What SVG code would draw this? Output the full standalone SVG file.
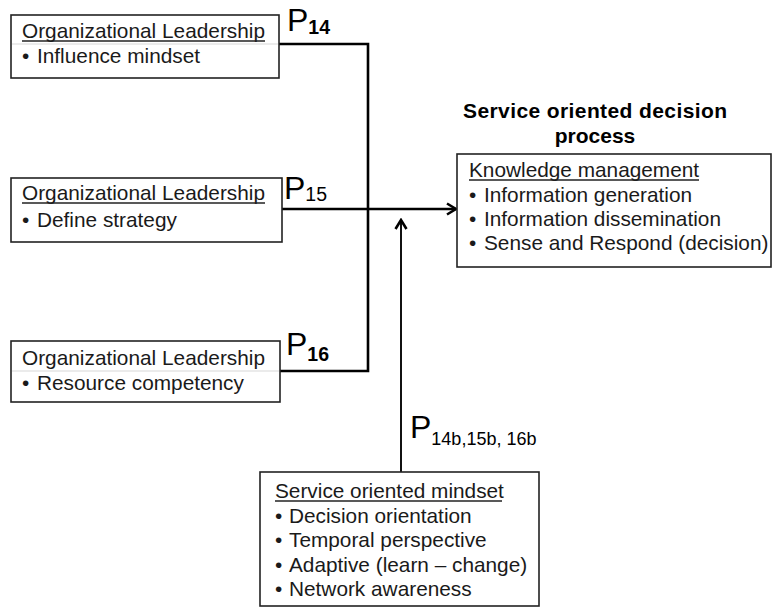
<svg xmlns="http://www.w3.org/2000/svg" width="772" height="608" viewBox="0 0 772 608">
  <style>
    .box { fill: #ffffff; stroke: #222222; stroke-width: 1.6; }
    .sep { stroke: #d8d8d8; stroke-width: 1.2; }
    .txt { font-family: "Liberation Sans", Arial, sans-serif; font-size: 20.8px; fill: #1a1a1a; }
    .ul { stroke: #222222; stroke-width: 1.3; }
    .title { font-family: "Liberation Sans", Arial, sans-serif; font-size: 21px; font-weight: bold; fill: #000000; }
    .p { font-family: "Liberation Sans", Arial, sans-serif; font-size: 32px; fill: #000000; }
    .sub { font-size: 19.5px; }
    .subb { font-size: 19.5px; font-weight: bold; }
    .subs { font-size: 18px; }
    .wire { fill: none; stroke: #000000; stroke-width: 2.6; }
    .wire2 { fill: none; stroke: #111111; stroke-width: 2; }
  </style>
  <defs>
    <marker id="head" markerWidth="14" markerHeight="14" refX="12" refY="7" orient="auto" markerUnits="userSpaceOnUse">
      <path d="M3,1.5 L12,7 L3,12.5" fill="none" stroke="#000000" stroke-width="2.6"/>
    </marker>
  </defs>

  <!-- connectors -->
  <g id="connectors">
    <polyline class="wire" points="279,44 368,44 368,371 280,371"/>
    <line class="wire" x1="282" y1="209" x2="456" y2="209" marker-end="url(#head)"/>
    <line class="wire2" x1="401" y1="472" x2="401" y2="220" marker-end="url(#head)"/>
  </g>

  <!-- leadership: influence mindset -->
  <g id="lead1">
    <rect class="box" x="11" y="15" width="268" height="63"/>
    <line class="sep" x1="12" y1="44" x2="278" y2="44"/>
    <text class="txt" x="22" y="38" textLength="243">Organizational Leadership</text>
    <line class="ul" x1="22" y1="41" x2="265" y2="41"/>
    <text class="txt" x="22" y="63">•</text>
    <text class="txt" x="37" y="63">Influence mindset</text>
  </g>

  <!-- leadership: define strategy -->
  <g id="lead2">
    <rect class="box" x="11" y="178" width="271" height="64"/>
    <text class="txt" x="22" y="200" textLength="243">Organizational Leadership</text>
    <line class="ul" x1="22" y1="203" x2="265" y2="203"/>
    <text class="txt" x="22" y="227">•</text>
    <text class="txt" x="37" y="227">Define strategy</text>
  </g>

  <!-- leadership: resource competency -->
  <g id="lead3">
    <rect class="box" x="11" y="341" width="269" height="61"/>
    <line class="sep" x1="12" y1="371" x2="279" y2="371"/>
    <text class="txt" x="22" y="365" textLength="243">Organizational Leadership</text>
    <text class="txt" x="22" y="390">•</text>
    <text class="txt" x="37" y="390">Resource competency</text>
  </g>

  <!-- proposition labels -->
  <g id="labels">
    <text class="p" x="287" y="31">P<tspan class="subb" dy="3">14</tspan></text>
    <text class="p" x="284" y="199">P<tspan class="sub" dy="2">15</tspan></text>
    <text class="p" x="286" y="355">P<tspan class="subb" dy="6">16</tspan></text>
    <text class="p" x="410" y="438">P<tspan class="subs" dy="7">14b,15b, 16b</tspan></text>
  </g>

  <!-- decision process -->
  <g id="decision">
    <text class="title" x="595" y="118" text-anchor="middle" textLength="264">Service oriented decision</text>
    <text class="title" x="595" y="143" text-anchor="middle">process</text>
    <rect class="box" x="457" y="154" width="314" height="113"/>
    <text class="txt" x="469" y="177">Knowledge management</text>
    <line class="ul" x1="469" y1="180" x2="699" y2="180"/>
    <text class="txt" x="469" y="202">•</text>
    <text class="txt" x="484" y="202">Information generation</text>
    <text class="txt" x="469" y="226">•</text>
    <text class="txt" x="484" y="226">Information dissemination</text>
    <text class="txt" x="469" y="250">•</text>
    <text class="txt" x="484" y="250">Sense and Respond (decision)</text>
  </g>

  <!-- service oriented mindset -->
  <g id="mindset">
    <rect class="box" x="260" y="472" width="279" height="134"/>
    <text class="txt" x="275" y="498">Service oriented mindset</text>
    <line class="ul" x1="275" y1="501" x2="502" y2="501"/>
    <text class="txt" x="275" y="523">•</text>
    <text class="txt" x="289" y="523">Decision orientation</text>
    <text class="txt" x="275" y="547">•</text>
    <text class="txt" x="289" y="547">Temporal perspective</text>
    <text class="txt" x="275" y="572">•</text>
    <text class="txt" x="289" y="572">Adaptive (learn – change)</text>
    <text class="txt" x="275" y="596">•</text>
    <text class="txt" x="289" y="596">Network awareness</text>
  </g>
</svg>
